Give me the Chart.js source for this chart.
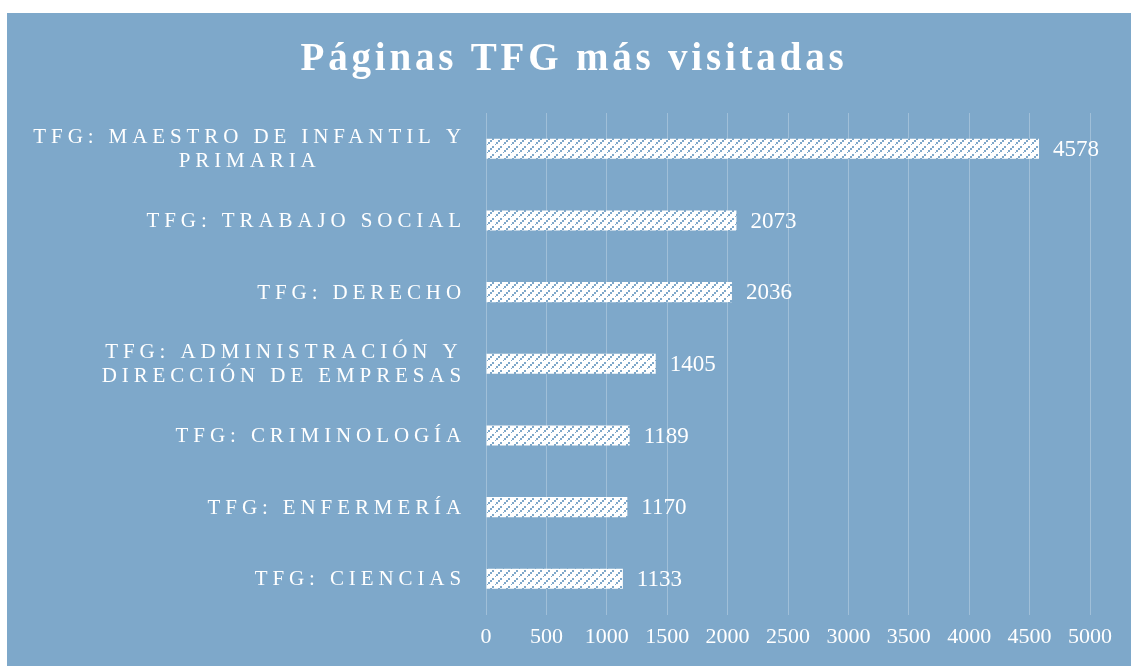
<!DOCTYPE html>
<html>
<head>
<meta charset="utf-8">
<script src="https://cdn.jsdelivr.net/npm/chart.js@4"></script>
<style>
  html, body { margin: 0; padding: 0; background: #ffffff; }
  #wrap { width: 1131px; height: 666px; position: relative; }
</style>
</head>
<body>
<div id="wrap"><canvas id="tfgChart"></canvas></div>
<script>
const chartTitle = 'Páginas TFG más visitadas';
const categories = [
  ['TFG: MAESTRO DE INFANTIL Y', 'PRIMARIA'],
  ['TFG: TRABAJO SOCIAL'],
  ['TFG: DERECHO'],
  ['TFG: ADMINISTRACIÓN Y', 'DIRECCIÓN DE EMPRESAS'],
  ['TFG: CRIMINOLOGÍA'],
  ['TFG: ENFERMERÍA'],
  ['TFG: CIENCIAS']
];
const visits = [4578, 2073, 2036, 1405, 1189, 1170, 1133];
const xTicks = [0, 500, 1000, 1500, 2000, 2500, 3000, 3500, 4000, 4500, 5000];

const panelColor = '#7ea8ca';
const serif = '"Liberation Serif", "DejaVu Serif", serif';

function makePattern() {
  const c = document.createElement('canvas');
  c.width = 8; c.height = 8;
  const p = c.getContext('2d');
  p.fillStyle = '#ffffff';
  p.fillRect(0, 0, 8, 8);
  p.fillStyle = panelColor;
  // dashed upward diagonal, 2px blocks
  p.fillRect(0, 6, 2, 2);
  p.fillRect(2, 4, 2, 2);
  p.fillRect(4, 2, 2, 2);
  p.fillRect(7, 0, 1, 1);
  return p.createPattern(c, 'repeat');
}

const panelPlugin = {
  id: 'panel',
  beforeDraw(chart) {
    const ctx = chart.ctx;
    ctx.save();
    ctx.fillStyle = panelColor;
    ctx.fillRect(7, 13, chart.width - 7, chart.height - 13);
    ctx.restore();
  },
  afterDraw(chart) {
    const ctx = chart.ctx;
    const yScale = chart.scales.y;
    ctx.save();
    ctx.fillStyle = '#ffffff';
    // title
    ctx.font = 'bold 39px ' + serif;
    ctx.letterSpacing = '3.8px';
    ctx.textAlign = 'center';
    ctx.textBaseline = 'alphabetic';
    ctx.fillText(chartTitle, 574, 70);
    // category labels
    ctx.textBaseline = 'middle';
    ctx.font = '21px ' + serif;
    ctx.letterSpacing = '4.9px';
    const right = yScale.right - 20;
    categories.forEach((lines, i) => {
      const y = yScale.getPixelForTick(i);
      const widths = lines.map(l => ctx.measureText(l).width);
      const maxW = Math.max(...widths);
      const lh = 24;
      const y0 = y - (lines.length - 1) * lh / 2 + 1;
      ctx.textAlign = 'center';
      lines.forEach((l, k) => {
        ctx.fillText(l, right - maxW / 2, y0 + k * lh);
      });
    });
    // value labels
    ctx.font = '23px ' + serif;
    ctx.letterSpacing = '0px';
    ctx.textAlign = 'left';
    const meta = chart.getDatasetMeta(0);
    meta.data.forEach((bar, i) => {
      ctx.fillText(String(visits[i]), bar.x + 14, bar.y + 1);
    });
    ctx.restore();
  }
};

const ctx = document.getElementById('tfgChart').getContext('2d');
new Chart(ctx, {
  type: 'bar',
  plugins: [panelPlugin],
  data: {
    labels: categories,
    datasets: [{
      data: visits,
      backgroundColor: makePattern(),
      borderWidth: 0,
      barPercentage: 0.56,
      categoryPercentage: 0.5
    }]
  },
  options: {
    indexAxis: 'y',
    responsive: true,
    maintainAspectRatio: false,
    animation: false,
    layout: { padding: { top: 113, right: 41, bottom: 7, left: 0 } },
    plugins: {
      legend: { display: false },
      tooltip: { enabled: false },
      title: { display: false }
    },
    scales: {
      x: {
        min: 0,
        max: 5000,
        afterBuildTicks(scale) {
          scale.ticks = xTicks.map(v => ({ value: v }));
        },
        grid: { color: '#a0bfd8', drawTicks: false },
        border: { display: false },
        ticks: {
          color: '#ffffff',
          font: { family: serif, size: 22 },
          padding: 9,
          callback: v => String(v)
        }
      },
      y: {
        afterFit(scale) { scale.width = 486; },
        grid: { display: false },
        border: { display: false },
        ticks: { display: false }
      }
    }
  }
});
</script>
</body>
</html>
